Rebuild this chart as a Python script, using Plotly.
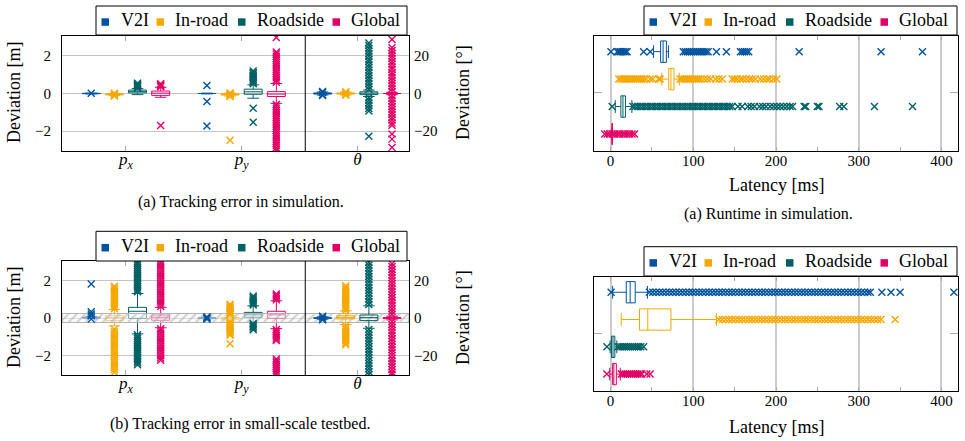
import plotly.graph_objects as go

W, H = 965, 441
FONT = "Liberation Serif"

sources = ["V2I", "In-road", "Roadside", "Global"]
colors = ["#00549F", "#F6A800", "#006165", "#E30066"]
group_labels = ["<i>p</i><sub><i>x</i></sub>", "<i>p</i><sub><i>y</i></sub>", "<i>θ</i>"]
dev_ticks_m = [-2, 0, 2]
dev_ticks_deg = [-20, 0, 20]
latency_ticks = [0, 100, 200, 300, 400]
latency_minor = [50, 150, 250, 350]
band_half_m = 0.24

# box statistics per source: [lowerfence, q1, median, q3, upperfence]
sim_px_box = [[-0.02, -0.01, 0.0, 0.01, 0.02], [-0.1, -0.07, -0.05, -0.03, 0.0],
              [-0.06, 0.03, 0.1, 0.18, 0.26], [-0.2, -0.1, 0.02, 0.13, 0.33]]
sim_px_out = [[0.01], [-0.13, -0.1, -0.08, -0.02, 0.01],
              [0.29, 0.34, 0.38, 0.42, 0.46, 0.5, 0.55],
              [0.36, 0.4, 0.44, 0.48, 0.52, -1.7]]
sim_py_box = [[-0.02, 0.0, 0.0, 0.0, 0.02], [-0.13, -0.08, -0.05, -0.02, 0.02],
              [-0.25, -0.04, 0.09, 0.23, 0.46], [-0.52, -0.16, -0.03, 0.1, 0.53]]
sim_py_out = [[0.42, -0.42, -1.73], [-0.16, -0.11, -0.06, 0.0, 0.03, -2.48],
              [0.52, 0.6, 0.68, 0.75, 0.83, 0.9, 0.97, 1.05, 1.12, 1.2, -0.78, -1.52],
              [0.6, 0.71, 0.83, 0.94, 1.06, 1.17, 1.29, 1.4, 1.52, 1.63, 1.75, 1.86, 1.98, 2.09, 2.2, 2.97,
               -0.58, -0.69, -0.81, -0.92, -1.04, -1.15, -1.27, -1.38, -1.5, -1.61, -1.73, -1.84, -1.96,
               -2.07, -2.19, -2.3, -2.42, -2.53, -2.65, -2.76, -2.88, -2.99]]
sim_th_box = [[-0.8, -0.3, 0.0, 0.3, 0.8], [-0.8, -0.3, 0.0, 0.3, 0.8],
              [-1.6, -0.6, 0.2, 0.9, 1.8], [-0.6, 0.0, 0.0, 0.0, 0.6]]
sim_th_out = [[-1.1, -0.6, 0.5, 1.0], [-0.9, -0.4, 0.4, 0.9],
              [2.3, 3.7, 5.2, 6.6, 8.1, 9.5, 11, 12.4, 13.9, 15.3, 16.8, 18.2, 19.7, 21.1, 22.6, 24, 25.5, 26.8,
               -2.2, -3.6, -5.1, -6.5, -8, -9.3, -22.7],
              [28.7, 24.3, 22.8, 21.4, 19.9, 18.5, 17, 15.6, 14.1, 12.7, 11.2, 9.8, 8.3, 6.9, 5.4, 4, 2.5, 1.1,
               -1.1, -2.5, -4, -5.4, -6.9, -8.3, -9.8, -11.2, -12.7, -14.1, -15.6, -16.8, -21.5, -24.2, -28.6]]

bed_px_box = [[-0.04, 0.0, 0.02, 0.04, 0.08], [-0.42, -0.14, 0.02, 0.12, 0.46],
              [-0.85, -0.02, 0.36, 0.57, 1.31], [-0.52, -0.12, 0.04, 0.16, 0.57]]
bed_px_out = [[1.82, 0.33, 0.22, 0.12, -0.06],
              [0.5, 0.6, 0.7, 0.8, 0.9, 1.0, 1.1, 1.2, 1.3, 1.4, 1.5, 1.6, 1.7,
               -0.6, -0.72, -0.84, -0.96, -1.08, -1.2, -1.32, -1.44, -1.56, -1.68, -1.8, -1.92, -2.04,
               -2.16, -2.28, -2.4, -2.52, -2.64, -2.76, -2.9],
              [1.4, 1.5, 1.6, 1.7, 1.8, 1.9, 2.0, 2.1, 2.2, 2.3, 2.4, 2.5, 2.6, 2.7, 2.8, 2.9, 3.0,
               -0.9, -1.0, -1.1, -1.2, -1.3, -1.4, -1.5, -1.6, -1.7, -1.8, -1.9, -2.0, -2.1, -2.2, -2.3, -2.4, -2.5],
              [0.62, 0.74, 0.86, 0.98, 1.1, 1.22, 1.34, 1.46, 1.58, 1.7, 1.82, 1.94, 2.06, 2.18, 2.3, 2.42,
               2.54, 2.66, 2.78, 2.9, 3.02,
               -0.58, -0.7, -0.82, -0.94, -1.06, -1.18, -1.3, -1.42, -1.54, -1.66, -1.78, -1.9, -2.02, -2.14, -2.26]]
bed_py_box = [[-0.04, -0.01, 0.0, 0.01, 0.04], [-0.16, -0.06, -0.02, 0.03, 0.13],
              [-0.23, 0.04, 0.17, 0.3, 0.65], [-0.57, -0.02, 0.17, 0.36, 0.92]]
bed_py_out = [[-0.06, -0.02, 0.03, 0.06],
              [0.17, 0.25, 0.33, 0.41, 0.49, 0.57, 0.65, 0.73, -0.21, -0.29, -0.37, -0.45, -0.53, -0.61,
               -0.69, -0.77, -0.85, -0.93, -1.38],
              [0.7, 0.78, 0.86, 0.94, 1.02, 1.1, 1.18, -0.3, -0.38, -0.46, -0.54, -0.63],
              [0.97, 1.05, 1.13, 1.21, 1.29, -0.62, -0.72, -0.82, -0.92, -1.02, -1.12, -1.2,
               -2.2, -2.3, -2.4, -2.5, -2.6, -2.7, -2.8, -2.9, -3.0]]
bed_th_box = [[-0.6, -0.1, 0.0, 0.1, 0.6], [-3.5, -0.5, 0.3, 1.2, 3.8],
              [-5.5, -1.4, 0.2, 1.6, 6.5], [-1.0, -0.2, 0.0, 0.2, 1.0]]
bed_th_out = [[-1.0, -0.5, 0.5, 1.0],
              [4.2, 5.2, 6.2, 7.2, 8.2, 9.2, 10.2, 11.2, 12.2, 13.2, 14.2, 15.2, 16.2, 17.2,
               -4.2, -5.2, -6.2, -7.2, -8.2, -9.2, -10.2, -11.2, -12.2, -13.2, -14.3],
              [7.2, 8.7, 10.2, 11.7, 13.2, 14.7, 16.2, 17.7, 19.2, 20.7, 22.2, 23.7, 25.2, 26.7, 28.2, 29.7,
               -6.2, -7.7, -9.2, -10.7, -12.2, -13.7, -15.2, -16.7, -18.2, -19.7, -21.2, -22.7, -24.2,
               -25.7, -27.2, -28.7, -30.2],
              [29.0, 27.5, 26, 24.5, 23, 21.5, 20, 18.5, 17, 15.5, 14, 12.5, 11, 9.5, 8, 6.5, 5, 3.5, 2,
               -2, -3.5, -5, -6.5, -8, -9.5, -11, -12.5, -14, -15.5, -17, -18.5, -20, -21.5, -23, -24.5,
               -26, -27.5, -29, -30.2]]

# runtime (latency in ms)
sim_rt_box = [[52, 60.5, 63.5, 67.5, 70], [62, 70.3, 73, 76.7, 83],
              [5.7, 12.5, 15, 18, 25.8], [1.5, 2, 2, 2, 2.5]]
sim_rt_out = [[0.5, 8, 10, 12, 14, 16, 18, 20, 40, 48, 88, 90.5, 93, 95.5, 98, 100.5, 103, 105.5, 108,
               110.5, 113, 115.5, 118, 128, 140, 157, 159.5, 162, 164.5, 167, 228, 327, 377],
              [10, 12.5, 15, 17.5, 20, 22.5, 25, 27.5, 30, 32.5, 35, 37.5, 40, 43, 48, 51, 58, 60,
               84, 86.5, 89, 91.5, 94, 96.5, 99, 101.5, 104, 106.5, 109, 113, 117, 121, 127, 131, 135,
               147, 150, 153, 157, 160, 164, 168, 171, 175, 181, 185, 189, 192, 197, 201],
              [2, 27, 30, 33, 36, 39, 42, 45, 48, 51, 54, 57, 60, 63, 66, 69, 72, 75, 78, 81, 84, 87, 90,
               93, 96, 99, 102, 105, 108, 111, 114, 117, 120, 123, 126, 129, 132, 135, 138, 141, 144, 147,
               154, 159, 166, 170, 174, 180, 184, 188, 193, 197, 201, 205, 209, 213, 217, 220, 234, 236,
               250, 252, 277, 282, 319, 365],
              [-7, -4, -1, 2, 5, 8, 11, 14, 17, 20, 23, 26, 29]]
bed_rt_box = [[2.5, 19, 23.7, 29.8, 44.6], [12.9, 35, 45, 73, 128],
              [-0.5, 1.2, 3, 5.2, 7.5], [-1, 2.5, 4, 7, 11.7]]
bed_rt_out = [[0.7, 47, 51, 55, 59, 63, 67, 71, 75, 79, 83, 87, 91, 95, 99, 103, 107, 111, 115, 119, 123,
               127, 131, 135, 139, 143, 147, 151, 155, 159, 163, 167, 171, 175, 179, 183, 187, 191, 195,
               199, 203, 207, 211, 215, 219, 223, 227, 231, 235, 239, 243, 247, 251, 255, 259, 263, 267,
               271, 275, 279, 283, 287, 291, 295, 299, 303, 307, 311, 314, 328, 339, 350, 415],
              [131, 135, 139, 143, 147, 151, 155, 159, 163, 167, 171, 175, 179, 183, 187, 191, 195, 199,
               203, 207, 211, 215, 219, 223, 227, 231, 235, 239, 243, 247, 251, 255, 259, 263, 267, 271,
               275, 279, 283, 287, 291, 295, 299, 303, 307, 311, 315, 319, 323, 327, 344],
              [-4.4, 9, 11.5, 14, 16.5, 19, 21.5, 24, 26.5, 29, 31.5, 34, 36.5, 40],
              [-4.4, 13, 15.5, 18, 20.5, 23, 25.5, 28, 30.5, 33, 35.5, 37.8, 43.8, 47.8]]

# ---------------------------------------------------------------- helpers
def fx(px):
    return px / W


def fy(py):
    return 1 - py / H


offsets = [-0.3, -0.1, 0.1, 0.3]
XR_LEFT = [-0.553, 2.447]
XR_RIGHT = [-20, 420]
YR_RIGHT = [-0.62, 3.57]

fig = go.Figure()


def marker(c):
    return dict(symbol="x-thin", size=7, color=c, line=dict(width=1.4, color=c))


def add_vertical_group(gi, boxes, outs, xa, ya):
    for si in range(4):
        pos = gi + offsets[si]
        lf, q1, med, q3, uf = boxes[si]
        fig.add_trace(go.Box(x=[pos], lowerfence=[lf], q1=[q1], median=[med], q3=[q3], upperfence=[uf],
                             width=0.155, whiskerwidth=0.65, boxpoints=False,
                             fillcolor="rgba(0,0,0,0)", line=dict(color=colors[si], width=1),
                             xaxis=xa, yaxis=ya, showlegend=False, hoverinfo="skip"))
        fig.add_trace(go.Scatter(x=[pos] * len(outs[si]), y=outs[si], mode="markers",
                                 marker=marker(colors[si]), xaxis=xa, yaxis=ya,
                                 showlegend=False, hoverinfo="skip"))


def add_horizontal(boxes, outs, xa, ya):
    for si in range(4):
        row = 3 - si
        lf, q1, med, q3, uf = boxes[si]
        fig.add_trace(go.Box(y=[row], orientation="h", lowerfence=[lf], q1=[q1], median=[med], q3=[q3],
                             upperfence=[uf], width=0.78, whiskerwidth=0.6, boxpoints=False,
                             fillcolor="rgba(0,0,0,0)", line=dict(color=colors[si], width=1),
                             xaxis=xa, yaxis=ya, showlegend=False, hoverinfo="skip"))
        fig.add_trace(go.Scatter(x=outs[si], y=[row] * len(outs[si]), mode="markers",
                                 marker=marker(colors[si]), xaxis=xa, yaxis=ya,
                                 showlegend=False, hoverinfo="skip"))


# hatched tolerance band in testbed panel
fig.add_trace(go.Scatter(x=[XR_LEFT[0], XR_LEFT[1], XR_LEFT[1], XR_LEFT[0], XR_LEFT[0]],
                         y=[-band_half_m, -band_half_m, band_half_m, band_half_m, -band_half_m],
                         mode="lines", fill="toself", line=dict(color="#b4b4b4", width=1.2),
                         fillcolor="rgba(0,0,0,0)",
                         fillpattern=dict(shape="/", fgcolor="#a0a0a0", bgcolor="rgba(245,245,245,0.5)",
                                          size=6, solidity=0.3),
                         xaxis="x2", yaxis="y3", showlegend=False, hoverinfo="skip"))

add_vertical_group(0, sim_px_box, sim_px_out, "x", "y")
add_vertical_group(1, sim_py_box, sim_py_out, "x", "y")
add_vertical_group(2, sim_th_box, sim_th_out, "x", "y2")
add_vertical_group(0, bed_px_box, bed_px_out, "x2", "y3")
add_vertical_group(1, bed_py_box, bed_py_out, "x2", "y3")
add_vertical_group(2, bed_th_box, bed_th_out, "x2", "y4")
add_horizontal(sim_rt_box, sim_rt_out, "x3", "y5")
add_horizontal(bed_rt_box, bed_rt_out, "x4", "y6")

tickfont = dict(family=FONT, size=15, color="black")

left_x = dict(range=XR_LEFT, tickvals=[0, 1, 2], ticktext=group_labels, ticks="inside", ticklen=5,
              tickcolor="#aaaaaa", mirror="ticks", showline=True, linecolor="black", linewidth=1,
              showgrid=False, zeroline=False, tickfont=dict(family=FONT, size=17, color="black"),
              ticklabelstandoff=-7)
left_y = dict(range=[-3.05, 3.05], tickvals=dev_ticks_m, showgrid=True, gridcolor="#c4c4c4", gridwidth=1,
              ticks="", showline=True, mirror=True, linecolor="black", linewidth=1, zeroline=False,
              tickfont=tickfont, ticklabelstandoff=7)
right_y = dict(range=[-30.5, 30.5], tickvals=dev_ticks_deg, showgrid=False, ticks="", showline=False,
               zeroline=False, side="right", tickfont=tickfont, ticklabelstandoff=4)
lat_x = dict(range=XR_RIGHT, tickvals=latency_ticks, showgrid=True, gridcolor="#cccccc", gridwidth=1.6,
             ticks="inside", ticklen=4, tickcolor="#aaaaaa", mirror="ticks", showline=True,
             linecolor="black", linewidth=1, zeroline=False, tickfont=tickfont, ticklabelstandoff=-4,
             minor=dict(tickvals=latency_minor, ticks="inside", ticklen=4, tickcolor="#aaaaaa", showgrid=False))
lat_y = dict(range=YR_RIGHT, tickvals=[1.5], showticklabels=False, ticks="inside", ticklen=8,
             tickcolor="#aaaaaa", mirror="ticks", showline=True, linecolor="black", linewidth=1,
             showgrid=False, zeroline=False)

dom_lx = [fx(62), fx(409)]
dom_rx = [fx(594), fx(958)]
dom_top = [fy(151), fy(36)]
dom_lb = [fy(375), fy(261)]
dom_rb = [fy(391), fy(276.7)]

layout = dict(
    width=W, height=H, margin=dict(l=0, r=0, t=0, b=0), plot_bgcolor="white", paper_bgcolor="white",
    showlegend=False, boxmode="overlay",
    xaxis=dict(left_x, domain=dom_lx, anchor="y"),
    yaxis=dict(left_y, domain=dom_top, anchor="x"),
    yaxis2=dict(right_y, overlaying="y", anchor="x"),
    xaxis2=dict(left_x, domain=dom_lx, anchor="y3"),
    yaxis3=dict(left_y, domain=dom_lb, anchor="x2"),
    yaxis4=dict(right_y, overlaying="y3", anchor="x2"),
    xaxis3=dict(lat_x, domain=dom_rx, anchor="y5"),
    yaxis5=dict(lat_y, domain=dom_top, anchor="x3"),
    xaxis4=dict(lat_x, domain=dom_rx, anchor="y6"),
    yaxis6=dict(lat_y, domain=dom_rb, anchor="x4"),
)
fig.update_layout(**layout)

shapes = []
annotations = []

# divider between position and heading sections
for xr, yr in (("x", "y domain"), ("x2", "y3 domain")):
    shapes.append(dict(type="line", xref=xr, yref=yr, x0=1.55, x1=1.55, y0=0, y1=1,
                       line=dict(color="black", width=1)))

# manual legends
sq_off = [5.5, 60.5, 142, 236.5]
txt_off = [23, 77, 159, 253]


def add_legend(x0, y0, x1, y1):
    shapes.append(dict(type="rect", xref="paper", yref="paper", x0=fx(x0), x1=fx(x1), y0=fy(y1), y1=fy(y0),
                       line=dict(color="black", width=1), fillcolor="white", layer="above"))
    cy = (y0 + y1) / 2
    for i, name in enumerate(sources):
        sx = x0 + sq_off[i]
        shapes.append(dict(type="rect", xref="paper", yref="paper", x0=fx(sx), x1=fx(sx + 7.5),
                           y0=fy(cy + 5.3), y1=fy(cy - 2.2), fillcolor=colors[i], line=dict(width=0),
                           layer="above"))
        annotations.append(dict(text=name, x=fx(x0 + txt_off[i]), y=fy(cy), xref="paper", yref="paper",
                                xanchor="left", yanchor="middle", showarrow=False,
                                font=dict(family=FONT, size=18, color="black")))


add_legend(96, 6, 407, 35)
add_legend(96, 231.3, 407, 261)
add_legend(644, 6, 957, 35)
add_legend(644, 246.7, 957, 276)


def text(s, px, py, size, angle=0):
    annotations.append(dict(text=s, x=fx(px), y=fy(py), xref="paper", yref="paper", xanchor="center",
                            yanchor="middle", showarrow=False, textangle=angle,
                            font=dict(family=FONT, size=size, color="black")))


text("Deviation [m]", 14, 93, 18, -90)
text("Deviation [°]", 463, 93, 18, -90)
text("Deviation [m]", 14, 318, 18, -90)
text("Deviation [°]", 463, 318, 18, -90)
text("(a) Tracking error in simulation.", 241, 202, 16)
text("(b) Tracking error in small-scale testbed.", 240, 424, 16)
text("Latency [ms]", 776, 185, 18)
text("(a) Runtime in simulation.", 768, 214, 16)
text("Latency [ms]", 776, 427, 18)

fig.update_layout(shapes=shapes, annotations=annotations)
fig.write_html("out.html")
